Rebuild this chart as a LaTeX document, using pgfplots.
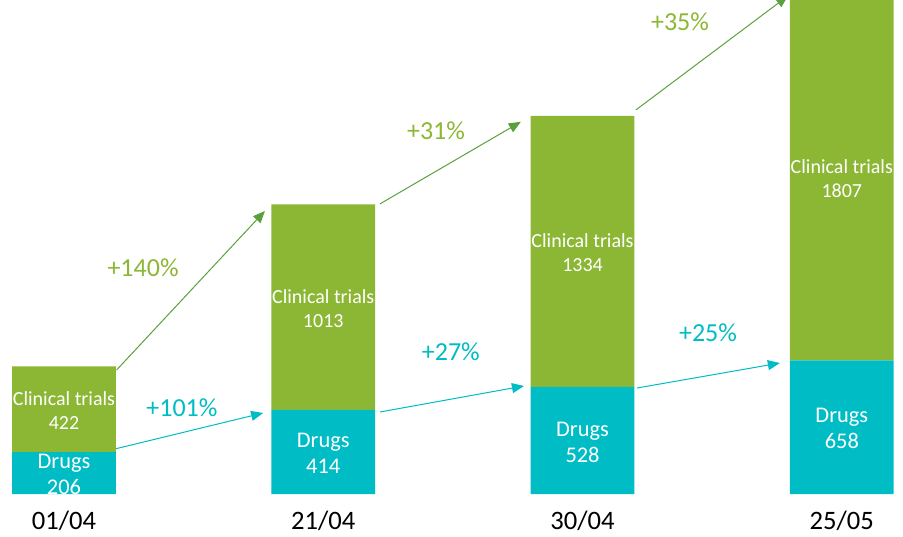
\documentclass[border=0pt]{standalone}
\usepackage{pgfplots}
\pgfplotsset{compat=1.18}
\usepackage{fontspec}
\setmainfont{Carlito}
\usetikzlibrary{arrows.meta}

\definecolor{ctgreen}{RGB}{139,183,52}
\definecolor{arrgreen}{RGB}{90,160,60}
\definecolor{drteal}{RGB}{0,188,196}

\tikzset{
    inlab/.style={text=white, align=center, yshift=-0.8pt},
    drlab/.style={inlab, font=\fontsize{11.2}{13}\selectfont},
    ctlab/.style={inlab, font=\fontsize{10}{12}\selectfont},
    growarr/.style={line width=0.5pt, -{Triangle[length=6pt,width=5pt]}},
    pct/.style={font=\fontsize{13}{15.6}\selectfont},
}

\begin{document}
\begin{tikzpicture}
\begin{axis}[
    name=ax,
    scale only axis,
    width=451.5pt, height=247pt,
    ybar stacked,
    bar width=0.4,
    xmin=-0.2468, xmax=3.236,
    ymin=0, ymax=2433,
    axis line style={draw=none},
    major tick length=0pt,
    ytick=\empty,
    xtick={0,1,2,3},
    xticklabels={01/04,21/04,30/04,25/05},
    xticklabel style={anchor=center, yshift=-13.5pt, font=\fontsize{13.3}{15.6}\selectfont, text=black},
]
% Drugs
\addplot[fill=drteal, draw=none] coordinates {(0,206) (1,414) (2,528) (3,658)};
% Clinical trials
\addplot[fill=ctgreen, draw=none] coordinates {(0,422) (1,1013) (2,1334) (3,1807)};

% label anchors (segment midpoints)
\coordinate (d0) at (axis cs:0,103);
\coordinate (d1) at (axis cs:1,207);
\coordinate (d2) at (axis cs:2,264);
\coordinate (d3) at (axis cs:3,329);
\coordinate (c0) at (axis cs:0,417);
\coordinate (c1) at (axis cs:1,920.5);
\coordinate (c2) at (axis cs:2,1195);
\coordinate (c3) at (axis cs:3,1561.5);

% growth arrows
\draw[growarr, arrgreen] (axis cs:0.203,611) -- (axis cs:0.775,1394);
\draw[growarr, arrgreen] (axis cs:1.219,1429) -- (axis cs:1.762,1833);
\draw[growarr, arrgreen] (axis cs:2.206,1892) -- (axis cs:2.792,2453);
\draw[growarr, drteal] (axis cs:0.197,222) -- (axis cs:0.768,399);
\draw[growarr, drteal] (axis cs:1.219,404) -- (axis cs:1.774,532);
\draw[growarr, drteal] (axis cs:2.210,522) -- (axis cs:2.761,645);

% growth labels
\node[pct, text=ctgreen] at (axis cs:0.305,1113) {+140\%};
\node[pct, text=ctgreen] at (axis cs:1.435,1788) {+31\%};
\node[pct, text=ctgreen] at (axis cs:2.376,2325) {+35\%};
\node[pct, text=drteal] at (axis cs:0.455,424) {+101\%};
\node[pct, text=drteal] at (axis cs:1.492,700) {+27\%};
\node[pct, text=drteal] at (axis cs:2.484,793) {+25\%};
\end{axis}

% labels inside bars, drawn over the stacked bars
\node[drlab] at (d0) {Drugs\\206};
\node[drlab] at (d1) {Drugs\\414};
\node[drlab] at (d2) {Drugs\\528};
\node[drlab] at (d3) {Drugs\\658};
\node[ctlab] at (c0) {Clinical trials\\422};
\node[ctlab] at (c1) {Clinical trials\\1013};
\node[ctlab] at (c2) {Clinical trials\\1334};
\node[ctlab] at (c3) {Clinical trials\\1807};

\pgfresetboundingbox
\path[use as bounding box] (ax.south west) ++(0,-21pt) rectangle (ax.north east);
\end{tikzpicture}
\end{document}
